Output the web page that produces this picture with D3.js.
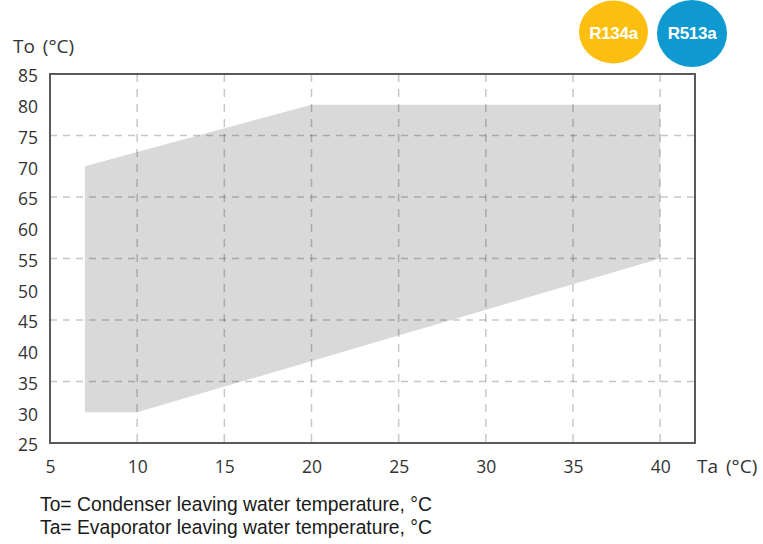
<!DOCTYPE html>
<html>
<head>
<meta charset="utf-8">
<script src="https://cdn.jsdelivr.net/npm/d3@7"></script>
<style>
  body { margin: 0; background: #fff; }
  svg text { font-family: "Open Sans", sans-serif; }
</style>
</head>
<body>
<div id="chart"></div>
<script>
let width = 763;
let height = 544;

// envelope corners (Ta, To)
let envTa = [7, 7, 20, 40, 40, 10];
let envTo = [30, 70, 80, 80, 55, 30];

let xTicks = [5, 10, 15, 20, 25, 30, 35, 40];
let yTicks = [25, 30, 35, 40, 45, 50, 55, 60, 65, 70, 75, 80, 85];
let xGrid = [10, 15, 20, 25, 30, 35, 40];
let yGrid = [35, 45, 55, 65, 75];

let badges = ["R134a", "R513a"];
let badgeColors = ["#fdbf0f", "#0e9ad0"];
let notes = ["To= Condenser leaving water temperature, °C",
             "Ta= Evaporator leaving water temperature, °C"];

let svg = d3.select("#chart").append("svg")
            .attr("width", width)
            .attr("height", height);

let mLeft = 50, mRight = 695, mTop = 74, mBottom = 443;

let x = d3.scaleLinear().domain([5, 42]).range([mLeft, mRight]);
let y = d3.scaleLinear().domain([25, 85]).range([mBottom, mTop]);

// shaded operating area
let pts = envTa.map((t, i) => [x(t), y(envTo[i])]);
svg.append("path")
   .attr("d", d3.line()(pts) + "Z")
   .attr("fill", "#d9d9d9");

// grid
svg.append("g").selectAll("line").data(xGrid).join("line")
   .attr("x1", d => x(d)).attr("x2", d => x(d))
   .attr("y1", mTop).attr("y2", mBottom)
   .attr("stroke", "rgba(0,0,0,0.22)")
   .attr("stroke-width", 1.5)
   .attr("stroke-dasharray", "8,7");

svg.append("g").selectAll("line").data(yGrid).join("line")
   .attr("x1", mLeft).attr("x2", mRight)
   .attr("y1", d => y(d)).attr("y2", d => y(d))
   .attr("stroke", "rgba(0,0,0,0.22)")
   .attr("stroke-width", 1.5)
   .attr("stroke-dasharray", "7,6");

// frame
svg.append("rect")
   .attr("x", mLeft).attr("y", mTop)
   .attr("width", mRight - mLeft).attr("height", mBottom - mTop)
   .attr("fill", "none")
   .attr("stroke", "#5a5a5a")
   .attr("stroke-width", 2);

// axes (labels only)
let xAxis = svg.append("g")
   .attr("transform", "translate(0," + mBottom + ")")
   .call(d3.axisBottom(x).tickValues(xTicks).tickSize(0).tickPadding(18));
let yAxis = svg.append("g")
   .attr("transform", "translate(" + mLeft + ",0)")
   .call(d3.axisLeft(y).tickValues(yTicks).tickSize(0).tickPadding(12));
[xAxis, yAxis].forEach(a => {
  a.select(".domain").remove();
  a.selectAll("text")
   .attr("fill", "#333")
   .style("font-family", "'Open Sans', sans-serif")
   .style("font-size", "17.5px");
});
yAxis.selectAll("text").attr("dy", "0.45em");

svg.append("text").attr("x", 13).attr("y", 53)
   .attr("fill", "#333").style("font-size", "19px")
   .style("word-spacing", "3px").text("To (°C)");
svg.append("text").attr("x", 697).attr("y", 473)
   .attr("fill", "#333").style("font-size", "19px")
   .style("word-spacing", "3px").text("Ta (°C)");

// refrigerant badges
let bx = [613.5, 692];
let by = [32, 33.5];
let br = [[34.5, 31.5], [35, 33.5]];
badges.forEach((b, i) => {
  svg.append("ellipse")
     .attr("cx", bx[i]).attr("cy", by[i])
     .attr("rx", br[i][0]).attr("ry", br[i][1])
     .attr("fill", badgeColors[i]);
  svg.append("text")
     .attr("x", bx[i]).attr("y", 39)
     .attr("text-anchor", "middle")
     .attr("fill", "#fff")
     .style("font-family", "'Liberation Sans', Arial, sans-serif")
     .style("font-weight", "bold")
     .style("font-size", "17px")
     .style("letter-spacing", "-0.3px")
     .text(b);
});

// footnotes
svg.append("g").selectAll("text").data(notes).join("text")
   .attr("x", 40).attr("y", (d, i) => 511 + i * 23)
   .attr("fill", "#1a1a1a")
   .style("font-family", "'Liberation Sans', Arial, sans-serif")
   .style("font-size", "19.3px")
   .text(d => d);
</script>
</body>
</html>
